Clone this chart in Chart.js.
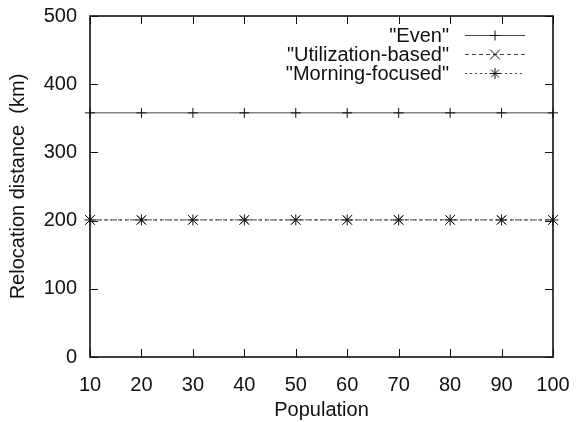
<!DOCTYPE html>
<html>
<head>
<meta charset="utf-8">
<script src="https://cdn.jsdelivr.net/npm/chart.js@4"></script>
<style>
  html, body { margin: 0; padding: 0; background: #fff; }
  #wrap { width: 578px; height: 422px; }
</style>
</head>
<body>
<div id="wrap"><canvas id="c" width="578" height="422"></canvas></div>
<script>
// Population sizes on the x axis
const population = [10, 20, 30, 40, 50, 60, 70, 80, 90, 100];
// Relocation distance (km) for each strategy
const evenDist        = [358, 358, 358, 358, 358, 358, 358, 358, 358, 358];
const utilizationDist = [201, 201, 201, 201, 201, 201, 201, 201, 201, 201];
const morningDist     = [201, 201, 201, 201, 201, 201, 201, 201, 201, 201];
const seriesNames = ['"Even"', '"Utilization-based"', '"Morning-focused"'];
const yTicks = [0, 100, 200, 300, 400, 500];

const FONT = '"Liberation Sans", Arial, Helvetica, sans-serif';
const FS = 20;
const toPoints = arr => arr.map((v, i) => ({ x: population[i], y: v }));

// Frame, inward ticks on all four sides, and the legend block
const framePlugin = {
  id: 'frame',
  afterDatasetsDraw(chart) {
    const { ctx, chartArea: a, scales: { x, y } } = chart;
    ctx.save();
    ctx.strokeStyle = '#111';
    ctx.lineWidth = 1;
    const t = 8;
    ctx.beginPath();
    population.forEach(v => {
      const px = Math.round(x.getPixelForValue(v)) + 0.5;
      ctx.moveTo(px, a.bottom); ctx.lineTo(px, a.bottom - t);
      ctx.moveTo(px, a.top); ctx.lineTo(px, a.top + t);
    });
    yTicks.forEach(v => {
      const py = Math.round(y.getPixelForValue(v)) + 0.5;
      ctx.moveTo(a.left, py); ctx.lineTo(a.left + t, py);
      ctx.moveTo(a.right, py); ctx.lineTo(a.right - t, py);
    });
    ctx.stroke();
    ctx.lineWidth = 1.6;
    ctx.strokeRect(a.left, a.top, a.right - a.left, a.bottom - a.top);

    // legend: right-aligned names with a line/point sample
    ctx.font = FS + 'px ' + FONT;
    ctx.textAlign = 'right';
    ctx.textBaseline = 'middle';
    const textRight = a.right - 104;
    const x0 = a.right - 88, x1 = a.right - 28;
    const rowY = [a.top + 19, a.top + 38, a.top + 57];
    chart.data.datasets.forEach((ds, i) => {
      const ry = rowY[i];
      ctx.fillStyle = '#111';
      ctx.fillText(ds.label, textRight, ry + 1);
      ctx.save();
      ctx.strokeStyle = ds.borderColor;
      ctx.lineWidth = ds.borderWidth;
      ctx.setLineDash(ds.borderDash || []);
      ctx.beginPath();
      ctx.moveTo(x0, ry + 0.5); ctx.lineTo(x1, ry + 0.5);
      ctx.stroke();
      ctx.restore();
      ctx.save();
      ctx.strokeStyle = ds.pointBorderColor;
      ctx.fillStyle = ds.pointBackgroundColor;
      ctx.lineWidth = ds.pointBorderWidth;
      Chart.helpers.drawPoint(ctx, {
        pointStyle: ds.pointStyle, radius: ds.pointRadius, rotation: 0,
        borderWidth: ds.pointBorderWidth
      }, (x0 + x1) / 2, ry + 0.5);
      ctx.restore();
    });
    ctx.restore();
  }
};

const tickFont = { family: FONT, size: FS };

new Chart(document.getElementById('c'), {
  type: 'line',
  data: {
    datasets: [
      {
        label: seriesNames[0], data: toPoints(evenDist),
        borderColor: '#444', borderWidth: 1, clip: false,
        pointStyle: 'cross', pointRadius: 5, pointBorderWidth: 1,
        pointBorderColor: '#111', pointBackgroundColor: '#111'
      },
      {
        label: seriesNames[1], data: toPoints(utilizationDist),
        borderColor: '#444', borderWidth: 1, borderDash: [4, 3], clip: false,
        pointStyle: 'crossRot', pointRadius: 7, pointBorderWidth: 1,
        pointBorderColor: '#111', pointBackgroundColor: '#111'
      },
      {
        label: seriesNames[2], data: toPoints(morningDist),
        borderColor: '#444', borderWidth: 1, borderDash: [2, 3], clip: false,
        pointStyle: 'star', pointRadius: 5.5, pointBorderWidth: 1,
        pointBorderColor: '#111', pointBackgroundColor: '#111'
      }
    ]
  },
  options: {
    responsive: false,
    animation: false,
    layout: { padding: { top: 16, right: 25, left: 0, bottom: 0 } },
    plugins: { legend: { display: false }, tooltip: { enabled: false } },
    scales: {
      x: {
        type: 'linear', min: 10, max: 100,
        afterFit(s) { s.height = 65; s.paddingLeft = 0; s.paddingRight = 0; },
        afterBuildTicks(s) { s.ticks = population.map(v => ({ value: v })); },
        grid: { display: false, drawTicks: false },
        border: { display: false },
        ticks: { color: '#111', font: tickFont, padding: 16, maxRotation: 0 },
        title: { display: true, text: 'Population', color: '#111', font: tickFont, padding: { top: 0, bottom: 0 } }
      },
      y: {
        type: 'linear', min: 0, max: 500,
        afterFit(s) { s.width = 90; s.paddingTop = 0; s.paddingBottom = 0; },
        afterBuildTicks(s) { s.ticks = yTicks.map(v => ({ value: v })); },
        grid: { display: false, drawTicks: false },
        border: { display: false },
        ticks: { color: '#111', font: tickFont, padding: 13 },
        title: { display: true, text: 'Relocation distance  (km)', color: '#111', font: tickFont, padding: { top: 6, bottom: 0 } }
      }
    }
  },
  plugins: [framePlugin]
});
</script>
</body>
</html>
